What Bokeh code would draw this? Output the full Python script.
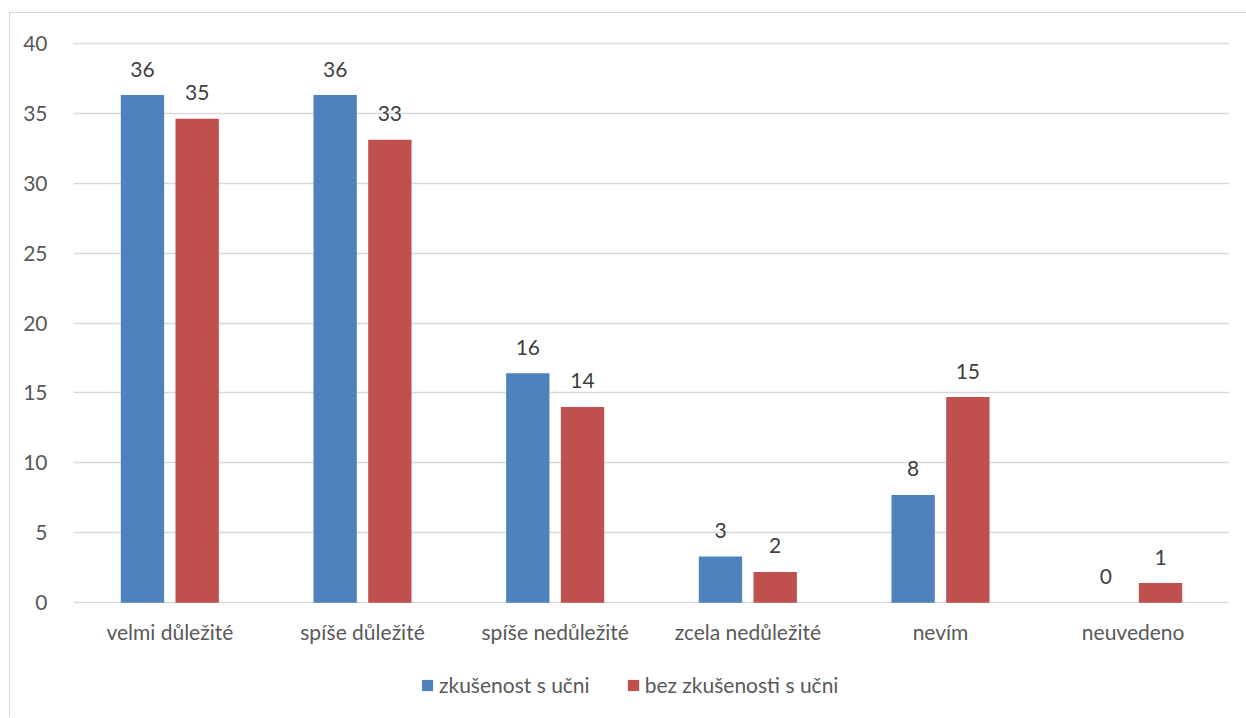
from bokeh.plotting import figure
from bokeh.layouts import column
from bokeh.models import ColumnDataSource, Legend, LegendItem, FixedTicker, Range1d
from bokeh.transform import dodge
from bokeh.core.properties import value
from bokeh.embed import file_html
from bokeh.resources import INLINE

categories = ["velmi důležité", "spíše důležité", "spíše nedůležité",
              "zcela nedůležité", "nevím", "neuvedeno"]
series_names = ["zkušenost s učni", "bez zkušenosti s učni"]
with_exp = [36.3, 36.3, 16.4, 3.3, 7.7, 0.0]
without_exp = [34.6, 33.1, 14.0, 2.2, 14.7, 1.4]
y_ticks = [0, 5, 10, 15, 20, 25, 30, 35, 40]

FONT = "Lato"
FS = "21px"
BLUE = "#4F81BD"
RED = "#C0504D"

src = ColumnDataSource(dict(
    cat=categories,
    a=with_exp,
    b=without_exp,
    a_lbl=[f"{v:.0f}" for v in with_exp],
    b_lbl=[f"{v:.0f}" for v in without_exp],
))

p = figure(x_range=categories, y_range=Range1d(-0.06, 40.06),
           width=1236, height=640,
           output_backend="svg", toolbar_location=None,
           min_border_left=63, min_border_right=17, min_border_top=29,
           min_border_bottom=50)
p.outline_line_color = None

ra = p.vbar(x=dodge("cat", -0.142, range=p.x_range), top="a", width=0.225,
            source=src, color=BLUE, line_color=None)
rb = p.vbar(x=dodge("cat", 0.142, range=p.x_range), top="b", width=0.225,
            source=src, color=RED, line_color=None)

for col, off in (("a", -0.142), ("b", 0.142)):
    p.text(x=dodge("cat", off, range=p.x_range), y=col, text=col + "_lbl",
           source=src, text_align="center", text_baseline="alphabetic",
           y_offset=-26, text_font=value(FONT), text_font_size=FS,
           text_color="#404040")

p.xgrid.grid_line_color = None
p.ygrid.grid_line_color = "#d9d9d9"
p.ygrid.grid_line_width = 1.5
p.yaxis.ticker = FixedTicker(ticks=y_ticks)

for ax in (p.xaxis, p.yaxis):
    ax.axis_line_color = None
    ax.major_tick_line_color = None
    ax.minor_tick_line_color = None
    ax.major_label_text_font = FONT
    ax.major_label_text_font_size = FS
    ax.major_label_text_color = "#595959"
p.xaxis.major_label_standoff = 9
p.yaxis.major_label_standoff = 20

# legend strip below the chart (its bars lie far outside its y range, only swatches show)
p2 = figure(x_range=p.x_range, y_range=Range1d(1000, 1001), width=1236, height=64,
            output_backend="svg", toolbar_location=None,
            x_axis_type=None, y_axis_type=None,
            min_border_left=63, min_border_right=17, min_border_top=0,
            min_border_bottom=0)
p2.outline_line_color = None
p2.grid.grid_line_color = None
la = p2.vbar(x=dodge("cat", -0.142, range=p.x_range), top="a", width=0.225,
             source=src, color=BLUE, line_color=None)
lb = p2.vbar(x=dodge("cat", 0.142, range=p.x_range), top="b", width=0.225,
             source=src, color=RED, line_color=None)

legend = Legend(items=[LegendItem(label=series_names[0], renderers=[la]),
                       LegendItem(label=series_names[1], renderers=[lb])],
                orientation="horizontal", location=(347, 20),
                label_text_font=FONT, label_text_font_size=FS,
                label_text_color="#595959", glyph_width=14, glyph_height=14,
                label_standoff=5, spacing=36, border_line_color=None,
                background_fill_alpha=0, padding=0, margin=0)
p2.add_layout(legend, "center")

layout = column(p, p2, spacing=0)
layout.styles = {"border-left": "1px solid #d9d9d9", "border-top": "1px solid #d9d9d9",
                 "margin-top": "12px", "margin-left": "9px"}

open("out.html", "w").write(file_html(layout, INLINE))
